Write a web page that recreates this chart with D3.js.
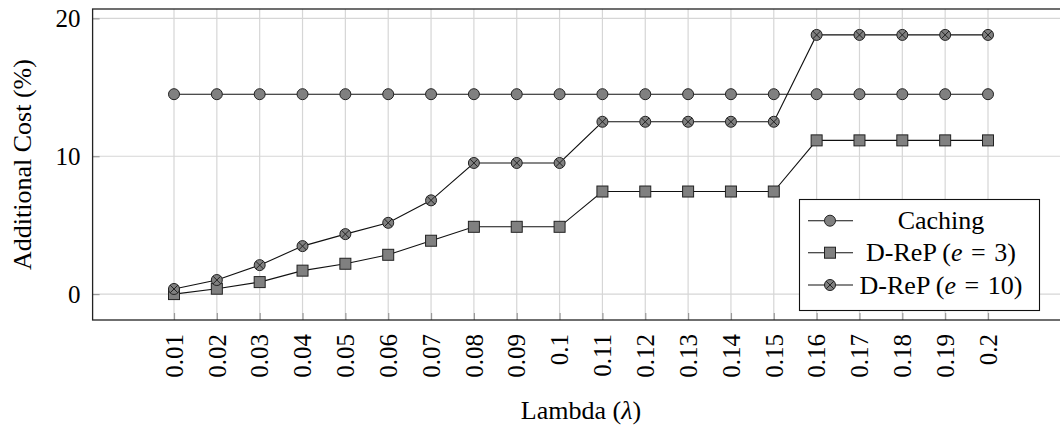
<!DOCTYPE html>
<html><head><meta charset="utf-8">
<script src="https://cdn.jsdelivr.net/npm/d3@7"></script>
<style>body{margin:0;background:#fff}svg{display:block}svg text{font-family:'Liberation Serif','DejaVu Serif',serif;fill:#000}</style>
</head><body>
<svg id="c" width="1060" height="428"></svg>
<script>
const lambdas = [0.01,0.02,0.03,0.04,0.05,0.06,0.07,0.08,0.09,0.1,0.11,0.12,0.13,0.14,0.15,0.16,0.17,0.18,0.19,0.2];
const tickLabels = ["0.01","0.02","0.03","0.04","0.05","0.06","0.07","0.08","0.09","0.1","0.11","0.12","0.13","0.14","0.15","0.16","0.17","0.18","0.19","0.2"];
const caching = [14.5,14.5,14.5,14.5,14.5,14.5,14.5,14.5,14.5,14.5,14.5,14.5,14.5,14.5,14.5,14.5,14.5,14.5,14.5,14.5];
const drep3 = [0,0.39,0.87,1.7,2.2,2.85,3.87,4.88,4.88,4.88,7.44,7.44,7.44,7.44,7.44,11.15,11.15,11.15,11.15,11.15];
const drep10 = [0.37,1.02,2.1,3.48,4.35,5.17,6.8,9.51,9.51,9.51,12.5,12.5,12.5,12.5,12.5,18.8,18.8,18.8,18.8,18.8];
const yTicks = [0,10,20];
const seriesNames = ["Caching","D-ReP (e = 3)","D-ReP (e = 10)"];

const FONT = "'Liberation Serif','DejaVu Serif',serif";
const svg = d3.select("#c");
const L=92.6, R=1069.4, T=9, B=320;
const x = d3.scaleLinear().domain([-0.009,0.219]).range([L,R]);
const ymax = 18.8, pad = ymax*0.1;
const y = d3.scaleLinear().domain([-pad, ymax+pad]).range([B,T]);

// grid
svg.append("g").selectAll("line").data(lambdas).join("line")
  .attr("x1",d=>x(d)).attr("x2",d=>x(d)).attr("y1",T).attr("y2",B)
  .attr("stroke","#d6d6d6").attr("stroke-width",1.2);
svg.append("g").selectAll("line").data(yTicks).join("line")
  .attr("x1",L).attr("x2",R).attr("y1",d=>y(d)).attr("y2",d=>y(d))
  .attr("stroke","#d6d6d6").attr("stroke-width",1.2);

const xAxis = d3.axisBottom(x).tickValues(lambdas).tickFormat((d,i)=>tickLabels[i]).tickSize(-7).tickPadding(0);
const gx = svg.append("g").attr("transform",`translate(0,${B})`).call(xAxis).attr("font-family",FONT);
gx.select(".domain").remove();
gx.selectAll(".tick line").attr("stroke","#999").attr("stroke-width",1.2);
gx.selectAll(".tick text").attr("transform","rotate(-90)").attr("text-anchor","end")
  .attr("x",-14).attr("y",0).attr("dy","0.33em").attr("font-size",25).style("font-family",FONT);

const yAxis = d3.axisLeft(y).tickValues(yTicks).tickSize(-7).tickPadding(0);
const gy = svg.append("g").attr("transform",`translate(${L},0)`).call(yAxis).attr("font-family",FONT);
gy.select(".domain").remove();
gy.selectAll(".tick line").attr("stroke","#999").attr("stroke-width",1.2);
gy.selectAll(".tick text").attr("x",-12).attr("dy","0.33em").attr("font-size",25).style("font-family",FONT);

svg.append("rect").attr("x",L).attr("y",T).attr("width",R-L).attr("height",B-T)
  .attr("fill","none").attr("stroke","#222").attr("stroke-width",1.3);

svg.append("text").attr("x",(L+R)/2).attr("y",419).attr("text-anchor","middle").attr("font-size",26).style("font-family",FONT)
  .html('Lambda (<tspan font-style="italic">λ</tspan>)');
svg.append("text").attr("transform",`translate(31,${(T+B)/2}) rotate(-90)`).attr("text-anchor","middle").attr("font-size",26).style("font-family",FONT)
  .text("Additional Cost (%)");

const line = d3.line().x((d,i)=>x(lambdas[i])).y(d=>y(d));
const gray = "#808080";
function marker(g, type, cx, cy){
  if(type==="circle"){
    g.append("circle").attr("cx",cx).attr("cy",cy).attr("r",5.5).attr("fill",gray).attr("stroke","#222").attr("stroke-width",1);
  } else if(type==="square"){
    g.append("rect").attr("x",cx-5.5).attr("y",cy-5.5).attr("width",11).attr("height",11).attr("fill",gray).attr("stroke","#222").attr("stroke-width",1);
  } else {
    g.append("circle").attr("cx",cx).attr("cy",cy).attr("r",5.5).attr("fill",gray).attr("stroke","#222").attr("stroke-width",1);
    const k=3.9;
    g.append("path").attr("d",`M${cx-k},${cy-k}L${cx+k},${cy+k}M${cx-k},${cy+k}L${cx+k},${cy-k}`).attr("stroke","#222").attr("stroke-width",1);
  }
}
const series = [[caching,"circle"],[drep3,"square"],[drep10,"otimes"]];
series.forEach(([vals,type])=>{
  svg.append("path").datum(vals).attr("d",line).attr("fill","none").attr("stroke","#111").attr("stroke-width",1.1);
  const g = svg.append("g");
  vals.forEach((v,i)=>marker(g,type,x(lambdas[i]),y(v)));
});

const lg = svg.append("g");
lg.append("rect").attr("x",799.5).attr("y",199.5).attr("width",240).attr("height",111)
  .attr("fill","#fff").attr("stroke","#111").attr("stroke-width",1.1);
const rowsY = [220.7,252.7,285];
const labelsHtml = ["Caching",
  'D-ReP (<tspan font-style="italic">e</tspan><tspan dx="2"> = </tspan><tspan dx="2">3)</tspan>',
  'D-ReP (<tspan font-style="italic">e</tspan><tspan dx="2"> = </tspan><tspan dx="2">10)</tspan>'];
series.forEach(([vals,type],i)=>{
  lg.append("line").attr("x1",808).attr("x2",853).attr("y1",rowsY[i]).attr("y2",rowsY[i]).attr("stroke","#111").attr("stroke-width",1.1);
  marker(lg,type,830,rowsY[i]);
  lg.append("text").attr("x",941).attr("y",rowsY[i]).attr("dy","0.33em").attr("text-anchor","middle").attr("font-size",26).style("font-family",FONT).html(labelsHtml[i]);
});
</script>
</body></html>
